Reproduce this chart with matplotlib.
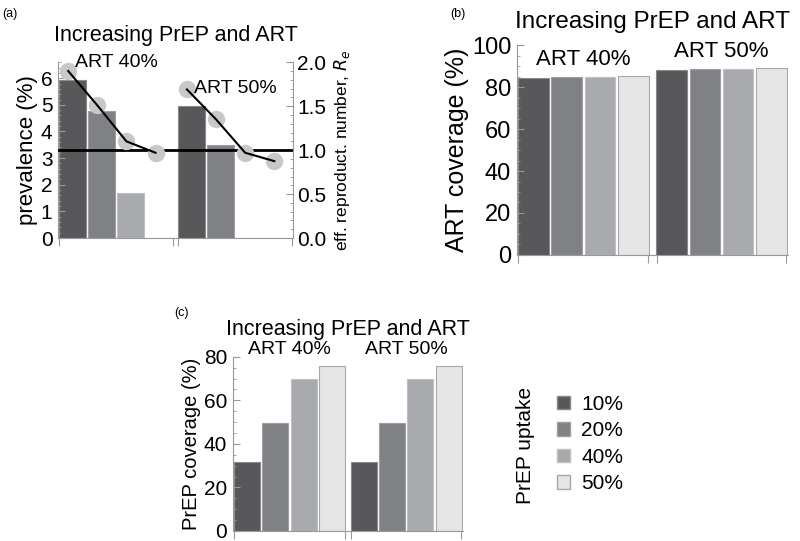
import matplotlib.pyplot as plt
import numpy as np
from matplotlib.ticker import MultipleLocator

plt.rcParams['font.family'] = ['Liberation Sans', 'DejaVu Sans']

uptake = ["10%", "20%", "40%", "50%"]
groups = ["ART 40%", "ART 50%"]
colors = ["#58585a", "#808184", "#a9aaad", "#e6e6e6"]
edges = ["#8a8a8a", "#a0a0a0", "#c0c0c0", "#a8a8a8"]

prev_40 = [5.95, 4.75, 1.7, 0.0]
prev_50 = [4.95, 3.5, 0.0, 0.0]
re_40 = [1.90, 1.51, 1.10, 0.97]
re_50 = [1.69, 1.35, 0.97, 0.875]

artcov_40 = [84.3, 84.6, 84.8, 85.2]
artcov_50 = [88.2, 88.4, 88.6, 89.3]

prepcov_40 = [31.7, 49.6, 69.8, 75.8]
prepcov_50 = [31.7, 49.6, 69.8, 75.8]

fig = plt.figure(figsize=(8, 5.41), dpi=100)
spine_c = "#999999"


def style(ax, major, minor):
    for s in ["top", "right"]:
        ax.spines[s].set_visible(False)
    ax.spines["left"].set_color(spine_c)
    ax.spines["bottom"].set_color(spine_c)
    ax.yaxis.set_major_locator(MultipleLocator(major))
    ax.yaxis.set_minor_locator(MultipleLocator(minor))
    ax.tick_params(axis="y", which="major", direction="in", length=5, width=0.8,
                   color=spine_c, pad=4)
    ax.tick_params(axis="y", which="minor", direction="in", length=2.5, width=0.6,
                   color=spine_c)


def bars(ax, v1, v2, gap, width):
    x1 = np.arange(4)
    x2 = np.arange(4) + 4 + gap
    for i in range(4):
        ax.bar(x1[i], v1[i], width=width, color=colors[i], edgecolor=edges[i], linewidth=0.8)
        ax.bar(x2[i], v2[i], width=width, color=colors[i], edgecolor=edges[i], linewidth=0.8)
    ax.set_xlim(-0.5, 7.5 + gap)
    ax.set_xticks([-0.45, 3.45, 3.55 + gap, 7.45 + gap])
    ax.set_xticklabels([])
    ax.tick_params(axis="x", direction="out", length=6, width=0.8, color=spine_c)
    return x1, x2


# (a)
ax = fig.add_axes([0.0725, 0.56, 0.294, 0.325])
x1, x2 = bars(ax, prev_40, prev_50, 0.08, 0.94)
ax.set_ylim(0, 6.6)
style(ax, 1, 0.2)
ax.tick_params(axis="y", labelsize=15)
ax.set_ylabel("prevalence (%)", fontsize=16, labelpad=2)
ax.set_title("Increasing PrEP and ART", fontsize=15.5, pad=15)
ax2 = ax.twinx()
ax2.set_ylim(0, 2.0)
for s in ["top", "left", "bottom"]:
    ax2.spines[s].set_visible(False)
ax2.spines["right"].set_color(spine_c)
ax2.yaxis.set_major_locator(MultipleLocator(0.5))
ax2.yaxis.set_minor_locator(MultipleLocator(0.1))
ax2.yaxis.set_major_formatter(plt.FormatStrFormatter("%.1f"))
ax2.tick_params(axis="y", which="major", direction="in", length=5, width=0.8,
                color=spine_c, labelsize=15, pad=3)
ax2.tick_params(axis="y", which="minor", direction="in", length=2.5, width=0.6, color=spine_c)
ax2.axhline(1.0, color="black", linewidth=2, zorder=2)
ax2.plot(x1 - 0.15, re_40, "o", ms=11.5, color="#c8c8c8", zorder=3)
ax2.plot(x2 - 0.15, re_50, "o", ms=11.5, color="#c8c8c8", zorder=3)
ax2.plot(x1 - 0.15, re_40, "-", color="black", lw=1.5, zorder=4)
ax2.plot(x2 - 0.15, re_50, "-", color="black", lw=1.5, zorder=4)
ax2.text(x1[0] + 0.1, 2.0, groups[0], fontsize=14, ha="left", va="center")
ax2.text(x2[0] + 0.1, 1.7, groups[1], fontsize=14, ha="left", va="center")
ax2.set_ylabel("eff. reproduct. number, $R_e$", fontsize=12.5, labelpad=4)
fig.text(0.003, 0.985, "(a)", fontsize=9, va="top")

# (b)
ax = fig.add_axes([0.646, 0.5287, 0.339, 0.388])
x1, x2 = bars(ax, artcov_40, artcov_50, 0.15, 0.92)
ax.set_ylim(0, 100)
style(ax, 20, 5)
ax.tick_params(axis="y", labelsize=17)
ax.set_ylabel("ART coverage (%)", fontsize=18, labelpad=2)
ax.set_title("Increasing PrEP and ART", fontsize=17.5, pad=12)
ax.text(1.5, 93, groups[0], fontsize=16, ha="center", va="center")
ax.text(x2[1] + 0.5, 97, groups[1], fontsize=16, ha="center", va="center")
fig.text(0.563, 0.985, "(b)", fontsize=9, va="top")

# (c)
ax = fig.add_axes([0.291, 0.0185, 0.2875, 0.322])
x1, x2 = bars(ax, prepcov_40, prepcov_50, 0.12, 0.92)
ax.set_ylim(0, 80)
style(ax, 20, 5)
ax.tick_params(axis="y", labelsize=15)
ax.set_ylabel("PrEP coverage (%)", fontsize=14.5, labelpad=2)
ax.set_title("Increasing PrEP and ART", fontsize=15.5, pad=16)
ax.text(1.5, 83.3, groups[0], fontsize=14, ha="center", va="center", clip_on=False)
ax.text(x2[1] + 0.5, 83.3, groups[1], fontsize=14, ha="center", va="center", clip_on=False)
fig.text(0.218, 0.432, "(c)", fontsize=9, va="top")

# legend
handles = [plt.Rectangle((0, 0), 1, 1, facecolor=colors[i], edgecolor=edges[i])
           for i in range(4)]
leg = fig.legend(handles, uptake, loc="upper left", bbox_to_anchor=(0.673, 0.305),
                 frameon=False, fontsize=15, handlelength=0.6, handleheight=0.6,
                 handletextpad=0.55, labelspacing=0.36)
fig.text(0.657, 0.177, "PrEP uptake", rotation=90, fontsize=15, ha="center", va="center")

plt.savefig("out.png", dpi=100)
